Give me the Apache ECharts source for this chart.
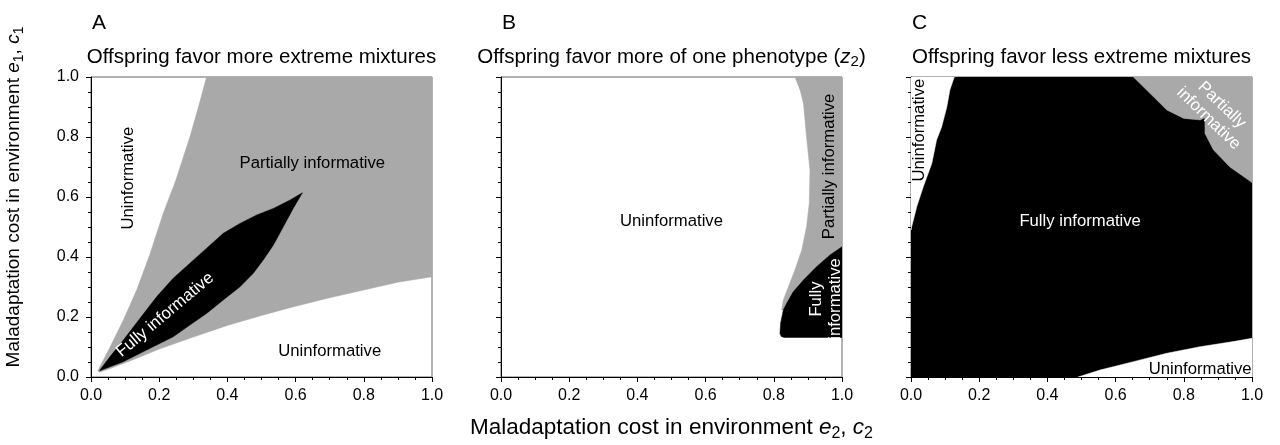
<!DOCTYPE html>
<html>
<head>
<meta charset="utf-8">
<script src="https://cdn.jsdelivr.net/npm/echarts@6/dist/echarts.min.js"></script>
<style>html,body{margin:0;padding:0;background:#fff}#c{width:1280px;height:445px}</style>
</head>
<body>
<div id="c"></div>
<script>
// ---------- DATA (data coordinates) ----------
const panelLetters = ['A', 'B', 'C'];
const panelTitles = ['Offspring favor more extreme mixtures', 'Offspring favor more of one phenotype ', 'Offspring favor less extreme mixtures'];
const tickValues = [0, 0.2, 0.4, 0.6, 0.8, 1.0];

// Panel A
const A_partial = [
  [0.02, 0.02], [0.026, 0.034], [0.056, 0.10], [0.095, 0.19], [0.134, 0.29], [0.173, 0.41],
  [0.212, 0.546], [0.249, 0.657], [0.29, 0.80], [0.315, 0.90], [0.339, 1.0],
  [1.0, 1.0], [1.0, 0.334], [0.9, 0.316], [0.8, 0.29], [0.7, 0.264], [0.6, 0.236],
  [0.5, 0.205], [0.4, 0.172], [0.3, 0.133], [0.2, 0.093], [0.12, 0.056], [0.06, 0.03], [0.025, 0.016]
];
const A_full = [
  [0.026, 0.023], [0.056, 0.068], [0.095, 0.123], [0.144, 0.196], [0.193, 0.268], [0.241, 0.329],
  [0.29, 0.379], [0.339, 0.429], [0.388, 0.479], [0.437, 0.512], [0.486, 0.54], [0.535, 0.562],
  [0.584, 0.59], [0.62, 0.614],
  [0.593, 0.562], [0.564, 0.501], [0.535, 0.44], [0.505, 0.39], [0.476, 0.346], [0.437, 0.301],
  [0.388, 0.257], [0.339, 0.212], [0.29, 0.173], [0.241, 0.134], [0.193, 0.107], [0.144, 0.079],
  [0.095, 0.051], [0.056, 0.034], [0.026, 0.021]
];
// Panel B
const B_partial = [
  [0.862, 1.0], [1.0, 1.0], [1.0, 0.223], [0.823, 0.223], [0.828, 0.257], [0.843, 0.301],
  [0.862, 0.357], [0.882, 0.423], [0.896, 0.501], [0.904, 0.579], [0.906, 0.69],
  [0.896, 0.80], [0.887, 0.912], [0.877, 0.957]
];
const B_full = [
  [1.0, 0.434], [0.965, 0.407], [0.926, 0.368], [0.887, 0.323], [0.857, 0.284], [0.838, 0.246],
  [0.828, 0.223], [0.82, 0.18], [0.818, 0.145], [0.822, 0.135], [0.83, 0.132], [1.0, 0.132]
];
// Panel C
const C_full = [[0, 0], [1, 0], [1, 1], [0, 1]];
const C_uninfTop = [
  [0, 1.0], [0.127, 1.0], [0.114, 0.957], [0.105, 0.90], [0.09, 0.834], [0.075, 0.79],
  [0.061, 0.712], [0.036, 0.634], [0.017, 0.568], [0.002, 0.501], [0, 0.49]
];
const C_uninfBottom = [
  [0.49, 0.0], [0.554, 0.023], [0.652, 0.051], [0.75, 0.079], [0.848, 0.101],
  [0.945, 0.118], [1.0, 0.129], [1.0, 0.0]
];
const C_partial = [
  [0.652, 1.0], [0.711, 0.934], [0.75, 0.89], [0.80, 0.862], [0.848, 0.857], [0.862, 0.864],
  [0.862, 0.812], [0.887, 0.757], [0.935, 0.70], [1.0, 0.648], [1.0, 1.0]
];

// Region labels: [panel, text, x, y, rotationDeg, colour]
const regionLabels = [
  [0, 'Uninformative', 0.109, 0.663, 90, '#000'],
  [0, 'Partially informative', 0.649, 0.712, 0, '#000'],
  [0, 'Uninformative', 0.70, 0.087, 0, '#000'],
  [0, 'Fully informative', 0.217, 0.207, 40, '#fff'],
  [1, 'Uninformative', 0.50, 0.518, 0, '#000'],
  [1, 'Partially informative', 0.962, 0.702, 90, '#000'],
  [1, 'Fully\ninformative', 0.953, 0.26, 90, '#fff'],
  [2, 'Uninformative', 0.026, 0.823, 90, '#000'],
  [2, 'Fully informative', 0.496, 0.518, 0, '#fff'],
  [2, 'Uninformative', 0.848, 0.026, 0, '#000'],
  [2, 'Partially\ninformative', 0.892, 0.884, -44, '#fff']
];

// ---------- STYLE / LAYOUT ----------
const FONT = '"Liberation Sans", Arial, Helvetica, sans-serif';
const GRAY = '#a9a9a9';
const BLACK = '#000000';
const gridLefts = [91, 501, 911];
const GRID_TOP = 77, GRID_W = 341, GRID_H = 300;

const panelRegions = [
  [[A_partial, GRAY], [A_full, BLACK]],
  [[B_partial, GRAY], [B_full, BLACK]],
  [[C_full, BLACK], [C_uninfTop, '#fff'], [C_uninfBottom, '#fff'], [C_partial, GRAY]]
];

const chart = echarts.init(document.getElementById('c'), null, {renderer: 'canvas'});

const grids = [], xAxes = [], yAxes = [], series = [];
for (let i = 0; i < 3; i++) {
  grids.push({left: gridLefts[i], top: GRID_TOP, width: GRID_W, height: GRID_H,
    show: true, borderColor: '#666', borderWidth: 1, backgroundColor: '#fff', containLabel: false});
  const axisCommon = {
    gridIndex: i, type: 'value', min: 0, max: 1, interval: 0.2,
    axisLine: {show: true, onZero: false, lineStyle: {color: '#000', width: 1}},
    axisTick: {show: true, inside: false, length: 5, lineStyle: {color: '#000', width: 1}},
    minorTick: {show: true, splitNumber: 4, length: 3, lineStyle: {color: '#000', width: 1}},
    splitLine: {show: false}, minorSplitLine: {show: false},
  };
  xAxes.push(Object.assign({}, axisCommon, {
    axisLabel: {show: true, formatter: v => v.toFixed(1), fontSize: 16, color: '#000', margin: 11, fontFamily: FONT}
  }));
  yAxes.push(Object.assign({}, axisCommon, {
    axisLabel: {show: i === 0, formatter: v => v.toFixed(1), fontSize: 16, color: '#000', margin: 12, fontFamily: FONT}
  }));
  const regions = panelRegions[i];
  const labels = regionLabels.filter(l => l[0] === i);
  series.push({
    type: 'custom', xAxisIndex: i, yAxisIndex: i, coordinateSystem: 'cartesian2d',
    silent: true, clip: true, z: 2,
    data: [[0, 0]],
    renderItem: function (params, api) {
      const children = [];
      regions.forEach(function (r) {
        children.push({
          type: 'polygon',
          shape: {points: r[0].map(p => api.coord(p))},
          style: {fill: r[1], stroke: r[1], lineWidth: 0.5}
        });
      });
      labels.forEach(function (l) {
        const pt = api.coord([l[2], l[3]]);
        children.push({
          type: 'text', x: pt[0], y: pt[1], rotation: l[4] * Math.PI / 180,
          style: {text: l[1], fill: l[5], fontSize: 16.7, fontFamily: FONT,
            align: 'center', verticalAlign: 'middle', lineHeight: 19}
        });
      });
      return {type: 'group', children: children};
    }
  });
}

const subRich = function (size) {
  return {
    n: {fontSize: size, fontFamily: FONT, color: '#000', lineHeight: size + 5},
    i: {fontSize: size, fontFamily: FONT, color: '#000', fontStyle: 'italic', lineHeight: size + 5},
    s: {fontSize: Math.round(size * 0.72), fontFamily: FONT, color: '#000', lineHeight: Math.round(size * 0.72), verticalAlign: 'bottom'}
  };
};

const graphics = [];
for (let i = 0; i < 3; i++) {
  graphics.push({type: 'text', x: gridLefts[i] + 1, y: 23,
    style: {text: panelLetters[i], fontSize: 21, fontFamily: FONT, fill: '#000', align: 'left', verticalAlign: 'middle'}});
  const cx = gridLefts[i] + GRID_W / 2;
  if (i === 1) {
    graphics.push({type: 'text', x: cx, y: 57,
      style: {text: '{n|' + panelTitles[i] + '(}{i|z}{s|2}{n|)}', rich: subRich(20.5),
        align: 'center', verticalAlign: 'middle'}});
  } else {
    graphics.push({type: 'text', x: cx, y: 57,
      style: {text: panelTitles[i], fontSize: 20.5, fontFamily: FONT, fill: '#000',
        align: 'center', verticalAlign: 'middle'}});
  }
}
graphics.push({type: 'text', x: 671.5, y: 428,
  style: {text: '{n|Maladaptation cost in environment }{i|e}{s|2}{n|, }{i|c}{s|2}', rich: subRich(22.5),
    align: 'center', verticalAlign: 'middle'}});
graphics.push({type: 'text', x: 14, y: 197, rotation: Math.PI / 2,
  style: {text: '{n|Maladaptation cost in environment }{i|e}{s|1}{n|, }{i|c}{s|1}', rich: subRich(19),
    align: 'center', verticalAlign: 'middle'}});

chart.setOption({
  animation: false,
  backgroundColor: '#fff',
  grid: grids, xAxis: xAxes, yAxis: yAxes, series: series,
  graphic: graphics
});
</script>
</body>
</html>
